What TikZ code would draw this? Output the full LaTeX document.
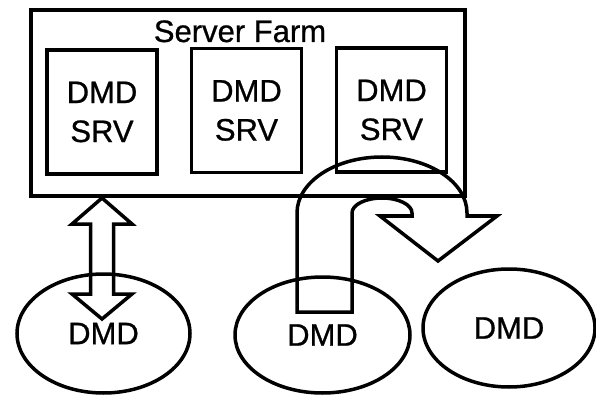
\documentclass[tikz,border=0pt]{standalone}
\usepackage{fontspec}
\setmainfont{Liberation Sans}[FakeBold=0.8]
\usetikzlibrary{shapes.geometric}

\begin{document}
\begin{tikzpicture}[x=1pt,y=-1pt,line width=3.5pt,
  font=\fontsize{31}{39}\selectfont,
  srv/.style={draw,rectangle,minimum width=110pt,minimum height=124pt,inner sep=0pt,align=center},
  dmd/.style={draw,ellipse,inner sep=0pt},
  blockarrow/.style={draw,line join=miter}]
  \useasboundingbox (0,0) rectangle (596,395);
  % server farm and its servers
  \node[draw,line width=4pt,minimum width=434pt,minimum height=186pt,inner sep=0pt] (farm) at (248,103) {};
  \node[anchor=base,inner sep=0pt] (title) at (240,42) {Server Farm};
  \node[srv] (s1) at (102,112) {DMD\\SRV};
  \node[srv] (s2) at (246.5,110.5) {DMD\\SRV};
  \node[srv] (s3) at (391.5,110) {DMD\\SRV};
  % clients
  \node[dmd,minimum width=173pt,minimum height=119pt] (d1) at (103.5,333.5) {DMD};
  \node[dmd,minimum width=175pt,minimum height=116pt] (d2) at (322.5,335) {DMD};
  \node[dmd,minimum width=172pt,minimum height=118pt] (d3) at (509,328) {DMD};
  % double arrow farm <-> d1
  \coordinate (up) at (s1.south |- farm.south);
  \draw[blockarrow] (up) -- ++(30,26) -- ++(-18.5,0) -- ++(0,70) -- ++(18.5,0)
    -- ++(-30,25) -- ++(-30,-25) -- ++(18.5,0) -- ++(0,-70) -- ++(-18.5,0) -- cycle;
  % u-turn arrow d2 -> d3
  \coordinate (tail) at (297,312);
  \draw[blockarrow] (tail) -- (297,213)
    arc[start angle=180,end angle=360,x radius=85,y radius=56]
    -- (467,216) -- (497,216) -- (438,261) -- (380,216) -- (412,216) -- (412,213)
    arc[start angle=0,end angle=-180,x radius=30,y radius=15]
    -- (352,312) -- cycle;
\end{tikzpicture}
\end{document}
